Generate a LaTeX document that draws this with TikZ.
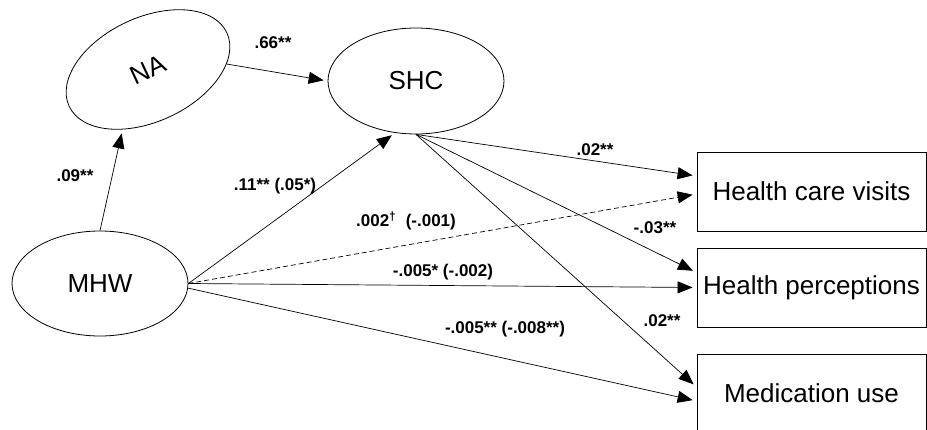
\documentclass[tikz,border=0pt]{standalone}
\usepackage{fontspec}
\setmainfont{Liberation Sans}
\usetikzlibrary{shapes.geometric,arrows.meta}
\begin{document}
\begin{tikzpicture}[x=1pt,y=-1pt,
  lat/.style={ellipse, draw, line width=0.8pt, minimum width=176pt, minimum height=105pt, inner sep=0pt, font=\fontsize{26}{28}\selectfont},
  obs/.style={rectangle, draw, line width=0.9pt, minimum width=229pt, minimum height=79pt, inner sep=0pt, font=\fontsize{26}{28}\selectfont},
  arr/.style={-{Triangle[length=15pt,width=12pt]}, line width=0.7pt, shorten >=4pt},
  lab/.style={font=\fontsize{17}{19}\selectfont\bfseries, inner sep=0pt}]
\useasboundingbox (0,0) rectangle (927,429);
\node[lat, rotate=25, minimum width=174pt, minimum height=104pt] (NA) at (148,69.5) {NA};
\node[lat, minimum height=106pt] (SHC) at (416,81) {SHC};
\node[lat] (MHW) at (100,283.5) {MHW};
\node[obs] (HCV) at (811.5,191.5) {Health care visits};
\node[obs] (HP) at (811.5,287.5) {Health perceptions};
\node[obs] (MU) at (811.5,393.5) {Medication use};
% connectors
\draw[arr] (MHW.north) -- (NA.222);
\draw[arr] (NA.-21) -- (SHC.west);
\draw[arr] (MHW.east) -- (SHC.248);
\draw[arr] (SHC.south) -- ([yshift=15.5pt]HCV.west);
\draw[arr, dash pattern=on 5pt off 3pt] (MHW.east) -- ([yshift=-2.5pt]HCV.west);
\draw[arr] (SHC.south) -- ([yshift=15pt]HP.west);
\draw[arr] (MHW.east) -- (HP.west);
\draw[arr] (SHC.south) -- ([yshift=6.5pt]MU.west);
\draw[arr] (MHW.-3) -- ([yshift=-7.5pt]MU.west);
% labels
\node[lab] (l1) at (273,43) {.66**};
\node[lab] (l2) at (75,176) {.09**};
\node[lab] (l3) at (275,186) {.11** (.05*)};
\node[lab] (l4) at (595,150) {.02**};
\node[lab] (l5) at (406,221) {.002\textsuperscript{†}\ \ (-.001)};
\node[lab] (l6) at (655,228) {-.03**};
\node[lab] (l7) at (443,272) {-.005* (-.002)};
\node[lab] (l8) at (662,321) {.02**};
\node[lab] (l9) at (505,329) {-.005** (-.008**)};
\end{tikzpicture}
\end{document}
